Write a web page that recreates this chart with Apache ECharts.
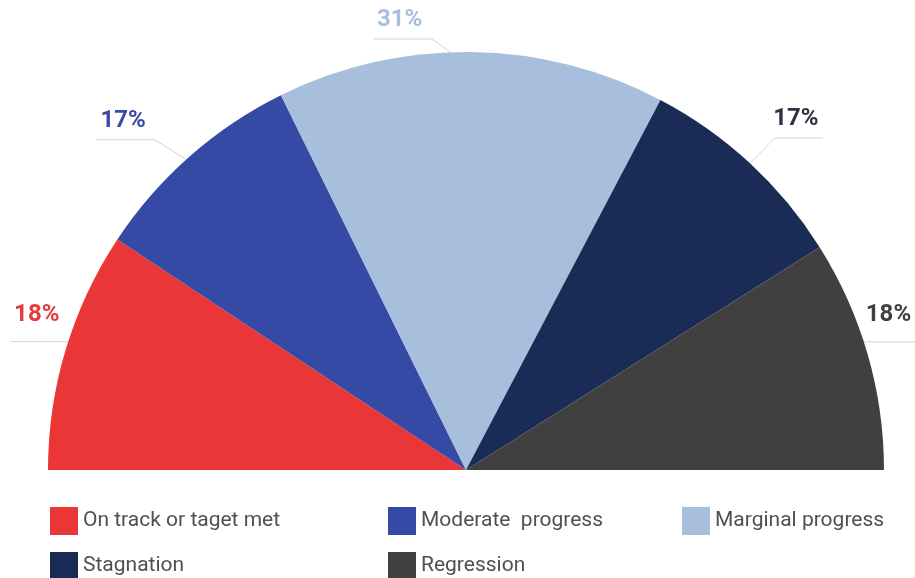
<!DOCTYPE html>
<html>
<head>
<meta charset="utf-8">
<script src="https://cdn.jsdelivr.net/npm/echarts@6/dist/echarts.min.js"></script>
<style>
    html, body { margin: 0; padding: 0; background: #fff; }
    #chart { width: 915px; height: 578px; }
</style>
</head>
<body>
<div id="chart"></div>
<script>
// slice names, in drawing order (left to right over the half circle)
var categories = ['On track or taget met', 'Moderate  progress', 'Marginal progress', 'Stagnation', 'Regression'];
// shares measured from the slice angles
var shares = [18.6, 16.8, 30.0, 16.7, 17.9];
// percentages as printed on the chart
var shareLabels = ['18%', '17%', '31%', '17%', '18%'];

var colors = ['#EA3636', '#354AA4', '#A8BEDD', '#1A2C55', '#404040'];
var labelColors = ['#E93A3A', '#3A4CA6', '#A8BEDD', '#2E3240', '#404040'];

// guide line per label: [inset, lift, kneeDx, kneeDy, run, textGap, side]
var guides = [
    [14, 12, 0, 0, 69, 27, -1],
    [15, 0, 45, 28, 58, 19, -1],
    [15, 0, 39, 28, 59, 19, -1],
    [15, 0, 35, 36, 48, 19, 1],
    [14, 16, 0, 0, 61, 27, 1]
];

var chart = echarts.init(document.getElementById('chart'));

var legendText = {
    fontFamily: 'Roboto',
    fontSize: 21,
    color: '#505050'
};

function makeLegend(names, left) {
    return {
        data: names,
        orient: 'vertical',
        left: left,
        top: 507,
        height: 90,
        padding: 0,
        itemWidth: 28,
        itemHeight: 28,
        itemGap: 17,
        icon: 'rect',
        textStyle: legendText
    };
}

var options = {
    animation: false,
    legend: [
        makeLegend([categories[0], categories[3]], 50),
        makeLegend([categories[1], categories[4]], 388),
        makeLegend([categories[2]], 682)
    ],
    series: [
        {
            type: 'pie',
            center: [466, 470],
            radius: [0, 418],
            startAngle: 180,
            endAngle: 0,
            clockwise: true,
            data: categories.map(function (name, i) {
                return {
                    name: name,
                    value: shares[i],
                    itemStyle: { color: colors[i] },
                    label: { color: labelColors[i] }
                };
            }),
            label: {
                show: true,
                position: 'outside',
                formatter: function (p) {
                    return shareLabels[p.dataIndex];
                },
                fontFamily: 'Roboto',
                fontWeight: 'bold',
                fontSize: 24,
                width: 60,
                overflow: 'none'
            },
            labelLine: {
                show: true,
                length: 10,
                length2: 40,
                lineStyle: { color: '#D4D4D4', width: 1 }
            },
            labelLayout: function (p) {
                var pts = p.labelLinePoints;
                if (!pts) {
                    return {};
                }
                var g = guides[p.dataIndex];
                var side = g[6];
                var a = pts[0], b = pts[1];
                var len = Math.sqrt((b[0] - a[0]) * (b[0] - a[0]) + (b[1] - a[1]) * (b[1] - a[1])) || 1;
                var ux = (b[0] - a[0]) / len;
                var uy = (b[1] - a[1]) / len;
                var start = [a[0] - ux * g[0], a[1] - uy * g[0] - g[1]];
                var knee = [start[0] + side * g[2], start[1] - g[3]];
                var end = [knee[0] + side * g[4], knee[1]];
                return {
                    x: end[0] - side * 4,
                    y: end[1] - g[5],
                    align: side < 0 ? 'left' : 'right',
                    verticalAlign: 'middle',
                    labelLinePoints: [start, knee, end]
                };
            },
            emphasis: { disabled: true }
        }
    ]
};

chart.setOption(options);
</script>
</body>
</html>
